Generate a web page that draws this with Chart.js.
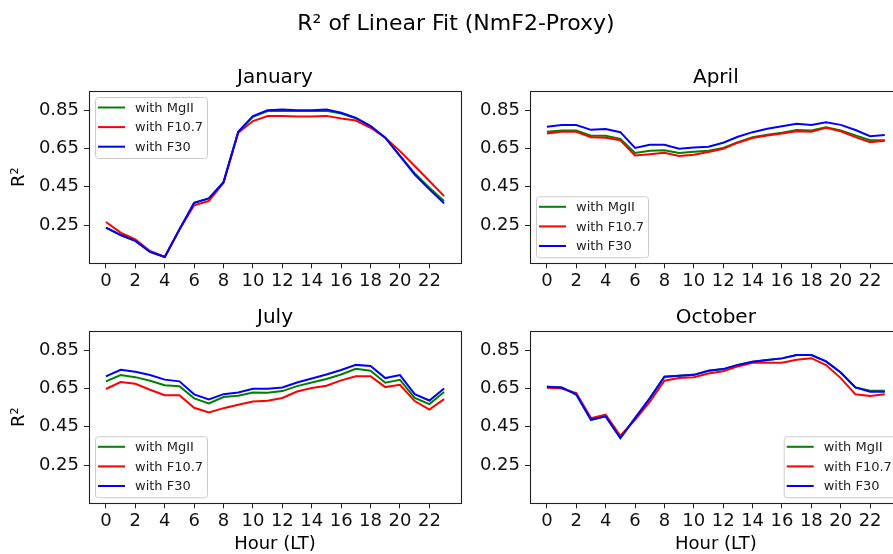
<!DOCTYPE html>
<html>
<head>
<meta charset="utf-8">
<script src="https://cdn.jsdelivr.net/npm/chart.js@4.4.1/dist/chart.umd.min.js"></script>
<style>
  html, body { margin: 0; padding: 0; background: #fff; width: 893px; height: 554px; overflow: hidden; }
  .panel { position: absolute; }
  #suptitle { position: absolute; left: 0; width: 912px; top: 10px; text-align: center;
    font-family: "DejaVu Sans", sans-serif; font-size: 22px; color: #000; z-index: 5; }
</style>
</head>
<body>
<div id="suptitle">R² of Linear Fit (NmF2-Proxy)</div>
<canvas id="jan" class="panel" width="470" height="300" style="left:0;top:0"></canvas>
<canvas id="apr" class="panel" width="440" height="300" style="left:470px;top:0"></canvas>
<canvas id="jul" class="panel" width="470" height="314" style="left:0;top:240px"></canvas>
<canvas id="oct" class="panel" width="440" height="314" style="left:470px;top:240px"></canvas>
<script>
const hours = [0,1,2,3,4,5,6,7,8,9,10,11,12,13,14,15,16,17,18,19,20,21,22,23];
const hourTicks = [0,2,4,6,8,10,12,14,16,18,20,22];
const r2Ticks = [0.25,0.45,0.65,0.85];
const seriesNames = ['with MgII', 'with F10.7', 'with F30'];
const seriesColors = ['#008000', '#ff0000', '#0000ff'];

// January
const janMgII = [0.236,0.198,0.167,0.110,0.083,0.227,0.366,0.389,0.474,0.737,0.815,0.845,0.846,0.845,0.845,0.847,0.832,0.808,0.767,0.706,0.612,0.520,0.445,0.375];
const janF107 = [0.266,0.210,0.175,0.114,0.083,0.227,0.353,0.375,0.470,0.732,0.793,0.819,0.819,0.817,0.817,0.820,0.806,0.796,0.758,0.706,0.636,0.558,0.480,0.401];
const janF30  = [0.236,0.198,0.167,0.110,0.083,0.227,0.366,0.389,0.474,0.737,0.819,0.850,0.853,0.850,0.850,0.853,0.836,0.810,0.767,0.706,0.610,0.514,0.436,0.363];
// April
const aprMgII = [0.737,0.744,0.744,0.716,0.716,0.700,0.626,0.638,0.640,0.626,0.633,0.638,0.652,0.683,0.709,0.721,0.732,0.746,0.744,0.760,0.744,0.718,0.693,0.693];
const aprF107 = [0.728,0.737,0.737,0.709,0.706,0.693,0.613,0.620,0.627,0.610,0.617,0.631,0.648,0.680,0.704,0.718,0.728,0.740,0.737,0.758,0.740,0.709,0.683,0.690];
const aprF30  = [0.763,0.772,0.772,0.747,0.751,0.735,0.653,0.669,0.669,0.648,0.655,0.659,0.680,0.711,0.735,0.753,0.766,0.779,0.772,0.787,0.773,0.746,0.714,0.720];
// July
const julMgII = [0.687,0.720,0.709,0.690,0.667,0.662,0.598,0.572,0.605,0.612,0.629,0.627,0.636,0.662,0.681,0.699,0.723,0.753,0.742,0.680,0.695,0.601,0.568,0.631];
const julF107 = [0.647,0.683,0.674,0.643,0.615,0.615,0.549,0.525,0.547,0.565,0.582,0.586,0.600,0.634,0.652,0.664,0.692,0.714,0.714,0.657,0.669,0.584,0.539,0.594];
const julF30  = [0.713,0.747,0.737,0.720,0.696,0.687,0.619,0.593,0.620,0.629,0.648,0.648,0.655,0.681,0.702,0.723,0.746,0.773,0.767,0.704,0.720,0.620,0.587,0.650];
// October
const octMgII = [0.659,0.655,0.617,0.486,0.504,0.391,0.495,0.598,0.711,0.716,0.721,0.742,0.751,0.773,0.789,0.798,0.807,0.824,0.824,0.791,0.733,0.655,0.638,0.638];
const octF107 = [0.653,0.650,0.626,0.495,0.513,0.403,0.486,0.580,0.690,0.704,0.709,0.728,0.740,0.765,0.784,0.784,0.784,0.800,0.808,0.772,0.704,0.619,0.610,0.620];
const octF30  = [0.659,0.655,0.620,0.486,0.504,0.391,0.495,0.598,0.711,0.716,0.721,0.742,0.751,0.773,0.789,0.798,0.807,0.824,0.824,0.791,0.733,0.655,0.633,0.633];

const FONT = '"DejaVu Sans", sans-serif';

// draws the frame, subplot title, legend and axis labels the way matplotlib lays them out
const panelDecor = {
  id: 'panelDecor',
  afterDatasetsDraw(chart, args, o) {
    const ctx = chart.ctx;
    const a = chart.chartArea;
    ctx.save();
    // legend
    const bw = 112, bh = 61, m = 6;
    let bx = o.legend.includes('right') ? a.right - m - bw : a.left + m;
    let by = o.legend.includes('upper') ? a.top + m : a.bottom - m - bh;
    ctx.beginPath();
    ctx.roundRect(bx + 0.5, by + 0.5, bw, bh, 3);
    ctx.fillStyle = 'rgba(255,255,255,0.8)';
    ctx.fill();
    ctx.strokeStyle = '#cccccc';
    ctx.lineWidth = 1;
    ctx.stroke();
    ctx.font = '13px ' + FONT;
    ctx.textBaseline = 'middle';
    ctx.textAlign = 'left';
    seriesNames.forEach((name, i) => {
      const yy = by + 10.5 + i * 19.6;
      ctx.strokeStyle = seriesColors[i];
      ctx.lineWidth = 2;
      ctx.beginPath();
      ctx.moveTo(bx + 3, yy);
      ctx.lineTo(bx + 30, yy);
      ctx.stroke();
      ctx.fillStyle = '#222';
      ctx.fillText(name, bx + 40, yy + 1);
    });
    // frame
    ctx.strokeStyle = '#222';
    ctx.lineWidth = 1.1;
    ctx.strokeRect(Math.round(a.left) + 0.5, Math.round(a.top) + 0.5, Math.round(a.right - a.left), Math.round(a.bottom - a.top));
    // title
    ctx.fillStyle = '#000';
    ctx.textAlign = 'center';
    ctx.textBaseline = 'alphabetic';
    ctx.font = '20px ' + FONT;
    ctx.fillText(o.title, (a.left + a.right) / 2, a.top - 8);
    ctx.font = '18px ' + FONT;
    if (o.xlabel) ctx.fillText('Hour (LT)', (a.left + a.right) / 2, a.bottom + 46);
    if (o.ylabel) {
      ctx.translate(24, (a.top + a.bottom) / 2);
      ctx.rotate(-Math.PI / 2);
      ctx.fillText('R²', 0, 0);
    }
    ctx.restore();
  }
};

function makePanel(id, title, mg, f107, f30, opts) {
  const toXY = arr => arr.map((v, i) => ({x: hours[i], y: v}));
  const sets = [mg, f107, f30].map((arr, i) => ({
    label: seriesNames[i],
    data: toXY(arr),
    borderColor: seriesColors[i],
    borderWidth: 2,
    pointRadius: 0,
    tension: 0,
    fill: false,
    order: 3 - i
  }));
  new Chart(document.getElementById(id), {
    type: 'line',
    data: { datasets: sets },
    options: {
      responsive: false,
      animation: false,
      layout: { padding: { top: 91, right: opts.right, left: 0, bottom: 0 } },
      plugins: {
        legend: { display: false },
        tooltip: { enabled: false },
        panelDecor: { title: title, legend: opts.legend, xlabel: opts.xlabel, ylabel: opts.ylabel }
      },
      scales: {
        x: {
          type: 'linear', min: -1.15, max: 24.15,
          afterBuildTicks: s => { s.ticks = hourTicks.map(v => ({value: v})); },
          afterFit: s => { s.height = opts.xh; },
          ticks: { autoSkip: false, maxRotation: 0, padding: 2, color: '#111', font: { family: FONT, size: 18 } },
          grid: { drawOnChartArea: false, drawTicks: true, tickLength: 5, tickColor: '#222' },
          border: { display: false }
        },
        y: {
          type: 'linear', min: 0.05, max: 0.95,
          afterBuildTicks: s => { s.ticks = r2Ticks.map(v => ({value: v})); },
          afterFit: s => { s.width = opts.yw; },
          ticks: { padding: 5, color: '#111', font: { family: FONT, size: 18 }, callback: v => v.toFixed(2) },
          grid: { drawOnChartArea: false, drawTicks: true, tickLength: 5, tickColor: '#222' },
          border: { display: false }
        }
      }
    },
    plugins: [panelDecor]
  });
}

makePanel('jan', 'January', janMgII, janF107, janF30, { right: 9, xh: 36.7, yw: 89, legend: 'upper left', ylabel: true });
makePanel('apr', 'April', aprMgII, aprF107, aprF30, { right: 8.3, xh: 36.7, yw: 60, legend: 'lower left' });
makePanel('jul', 'July', julMgII, julF107, julF30, { right: 9, xh: 50.7, yw: 89, legend: 'lower left', xlabel: true, ylabel: true });
makePanel('oct', 'October', octMgII, octF107, octF30, { right: 8.3, xh: 50.7, yw: 60, legend: 'lower right', xlabel: true });
</script>
</body>
</html>
